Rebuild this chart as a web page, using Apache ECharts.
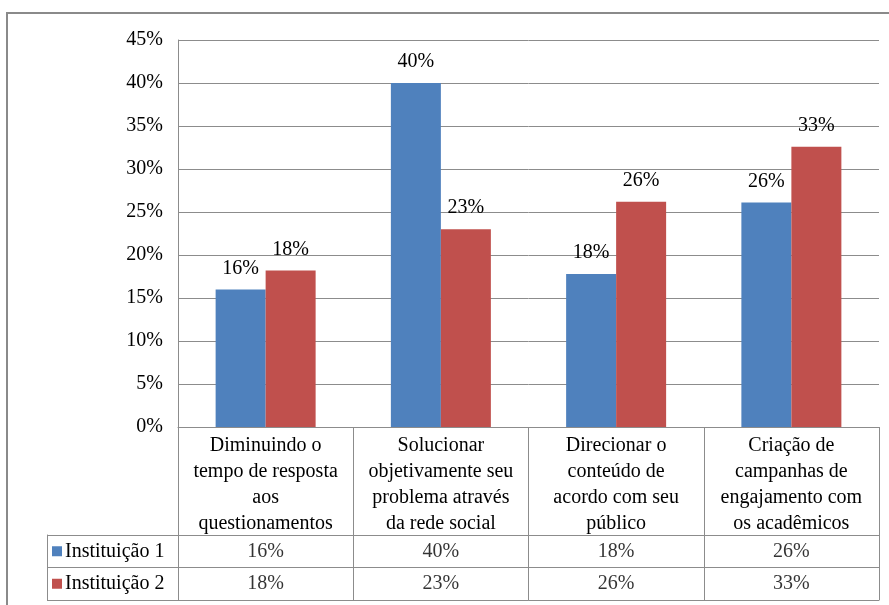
<!DOCTYPE html>
<html>
<head>
<meta charset="utf-8">
<script src="https://cdn.jsdelivr.net/npm/echarts@6/dist/echarts.min.js"></script>
<style>
  html, body { margin: 0; padding: 0; background: #fff; }
  #chart { width: 889px; height: 605px; }
</style>
</head>
<body>
<div id="chart"></div>
<script>
// categories (wrapped like the Excel cells)
const categories = [
  'Diminuindo o\ntempo de resposta\naos\nquestionamentos',
  'Solucionar\nobjetivamente seu\nproblema através\nda rede social',
  'Direcionar o\nconteúdo de\nacordo com seu\npúblico',
  'Criação de\ncampanhas de\nengajamento com\nos acadêmicos'
];
const seriesNames = ['Instituição 1', 'Instituição 2'];
const inst1 = [16, 40, 17.8, 26.1];
const inst2 = [18.2, 23, 26.2, 32.6];
const colors = ['#4F81BD', '#C0504D'];

const FONT = 'Liberation Serif';
const GRID_COLOR = '#8c8c8c';
const pct = v => Math.round(v) + '%';

// table cells: [categoryIndex, rowIndex, value]
const tableCells = [];
[inst1, inst2].forEach((vals, r) => {
  vals.forEach((v, c) => tableCells.push([c, r, v]));
});

const chart = echarts.init(document.getElementById('chart'));

const barLabel = {
  show: true,
  position: 'top',
  distance: 11,
  formatter: p => pct(p.value),
  fontFamily: FONT,
  fontSize: 20,
  color: '#000'
};

chart.setOption({
  animation: false,
  textStyle: { fontFamily: FONT, color: '#000' },
  graphic: [{
    type: 'rect',
    shape: { x: 7, y: 13, width: 900, height: 620 },
    style: { fill: 'none', stroke: '#8a8a8a', lineWidth: 2 },
    silent: true
  }],
  grid: [
    { left: 178, top: 40, right: 10, height: 387 },
    { left: 178, top: 535, right: 10, height: 65 }
  ],
  xAxis: [
    {
      type: 'category',
      gridIndex: 0,
      data: categories,
      axisLine: { lineStyle: { color: GRID_COLOR } },
      axisTick: { show: true, interval: 0, length: 108, lineStyle: { color: GRID_COLOR } },
      axisLabel: {
        interval: 0,
        margin: 6,
        fontFamily: FONT,
        fontSize: 20,
        lineHeight: 26,
        color: '#000'
      }
    },
    {
      type: 'category',
      gridIndex: 1,
      data: categories,
      axisLine: { show: true, lineStyle: { color: GRID_COLOR } },
      axisTick: { show: false },
      axisLabel: { show: false },
      splitLine: { show: true, interval: 0, lineStyle: { color: GRID_COLOR } }
    }
  ],
  yAxis: [
    {
      type: 'value',
      gridIndex: 0,
      min: 0,
      max: 45,
      interval: 5,
      axisLine: { show: true, lineStyle: { color: GRID_COLOR } },
      axisTick: { show: false },
      axisLabel: {
        formatter: '{value}%',
        margin: 15,
        fontFamily: FONT,
        fontSize: 20,
        color: '#000'
      },
      splitLine: { lineStyle: { color: GRID_COLOR } }
    },
    {
      type: 'category',
      gridIndex: 1,
      inverse: true,
      data: seriesNames,
      axisLine: { show: true, lineStyle: { color: GRID_COLOR } },
      axisTick: { show: true, interval: 0, length: 131, lineStyle: { color: GRID_COLOR } },
      splitLine: { show: true, interval: 0, lineStyle: { color: GRID_COLOR } },
      axisLabel: {
        align: 'left',
        margin: 126,
        formatter: (v, i) => '{s' + i + '|}{n|' + v + '}',
        rich: {
          s0: { width: 10, height: 10, backgroundColor: colors[0] },
          s1: { width: 10, height: 10, backgroundColor: colors[1] },
          n: { fontFamily: FONT, fontSize: 20, color: '#000', padding: [0, 0, 0, 3] }
        }
      }
    },
    {
      // left border of the legend column
      type: 'value',
      gridIndex: 1,
      position: 'left',
      offset: 131,
      axisLine: { show: true, onZero: false, lineStyle: { color: GRID_COLOR } },
      axisTick: { show: false },
      axisLabel: { show: false },
      splitLine: { show: false }
    }
  ],
  series: [
    {
      name: seriesNames[0],
      type: 'bar',
      xAxisIndex: 0,
      yAxisIndex: 0,
      data: inst1,
      barWidth: 50,
      barGap: '0%',
      itemStyle: { color: colors[0] },
      label: barLabel
    },
    {
      name: seriesNames[1],
      type: 'bar',
      xAxisIndex: 0,
      yAxisIndex: 0,
      data: inst2,
      barWidth: 50,
      barGap: '0%',
      itemStyle: { color: colors[1] },
      label: barLabel
    },
    {
      type: 'scatter',
      xAxisIndex: 1,
      yAxisIndex: 1,
      data: tableCells,
      symbolSize: 2,
      itemStyle: { color: 'rgba(0,0,0,0)' },
      label: {
        show: true,
        position: 'inside',
        formatter: p => pct(p.value[2]),
        fontFamily: FONT,
        fontSize: 20,
        color: '#000'
      }
    }
  ]
});
</script>
</body>
</html>
